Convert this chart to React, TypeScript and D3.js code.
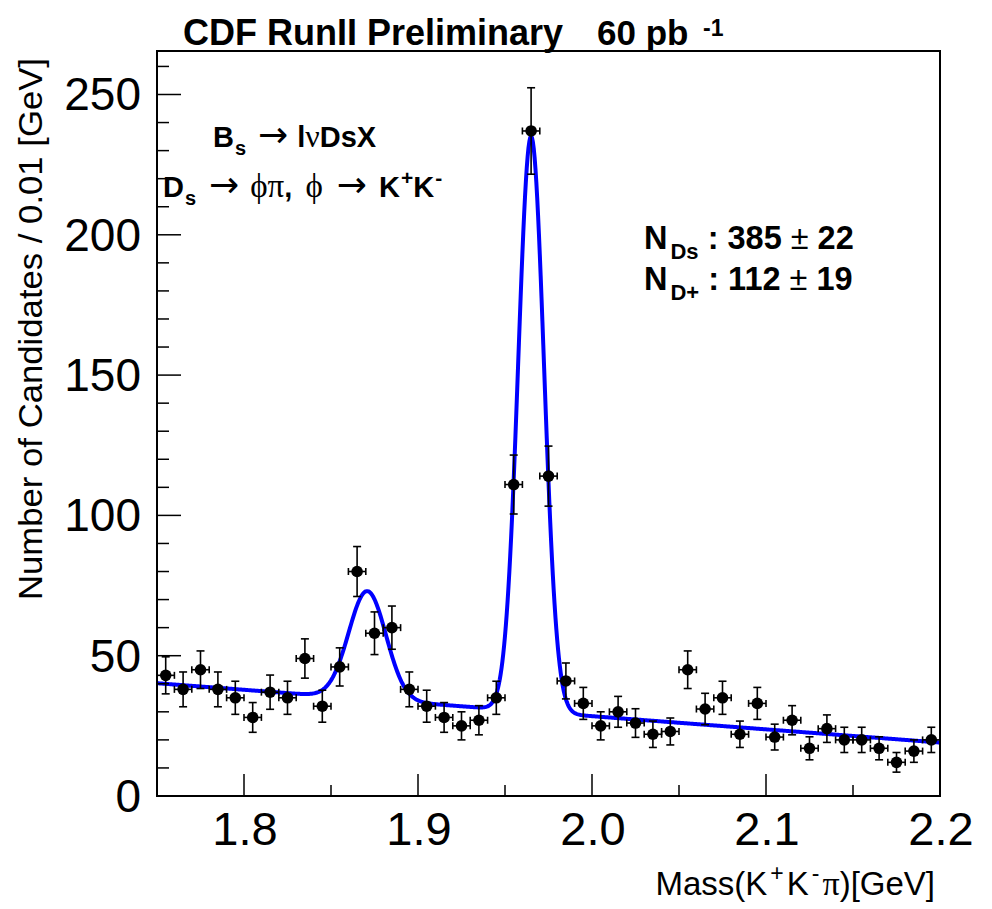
import React from "react";
import * as d3 from "d3";

// Bin centres (GeV), 0.01 GeV bins
const binCenters = [
  1.755, 1.765, 1.775, 1.785, 1.795, 1.805, 1.815, 1.825, 1.835, 1.845,
  1.855, 1.865, 1.875, 1.885, 1.895, 1.905, 1.915, 1.925, 1.935, 1.945,
  1.955, 1.965, 1.975, 1.985, 1.995, 2.005, 2.015, 2.025, 2.035, 2.045,
  2.055, 2.065, 2.075, 2.085, 2.095, 2.105, 2.115, 2.125, 2.135, 2.145,
  2.155, 2.165, 2.175, 2.185, 2.195,
];
const counts = [
  43, 38, 45, 38, 35, 28, 37, 35, 49, 32,
  46, 80, 58, 60, 38, 32, 28, 25, 27, 35,
  111, 237, 114, 41, 33, 25, 30, 26, 22, 23,
  45, 31, 35, 22, 33, 21, 27, 17, 24, 20,
  20, 17, 12, 16, 20,
];
const errors = [
  6.6, 6.2, 6.7, 6.2, 5.9, 5.3, 6.1, 5.9, 7.0, 5.7,
  6.8, 8.9, 7.6, 7.7, 6.2, 5.7, 5.3, 5.0, 5.2, 5.9,
  10.5, 15.4, 10.7, 6.4, 5.7, 5.0, 5.5, 5.1, 4.7, 4.8,
  6.7, 5.6, 5.9, 4.7, 5.7, 4.6, 5.2, 4.1, 4.9, 4.5,
  4.5, 4.1, 3.5, 4.0, 4.5,
];
const binHalfWidth = 0.005;

// Fit parameters: linear background + two Gaussians
const bgAt175 = 40.2;
const bgSlope = -47;
const dsAmp = 205;
const dsMean = 1.965;
const dsSigma = 0.0074;
const dpAmp = 38.5;
const dpMean = 1.8709;
const dpSigma = 0.0107;

const xTicks = [1.8, 1.9, 2.0, 2.1, 2.2];
const xMinorTicks = [1.75, 1.85, 1.95, 2.05, 2.15];
const yTicks = [0, 50, 100, 150, 200, 250];
const yMinorTicks = [10, 20, 30, 40, 60, 70, 80, 90, 110, 120, 130, 140, 160, 170, 180, 190, 210, 220, 230, 240, 260];

const W = 992;
const H = 909;
const L = 157, R = 940, T = 51, B = 796;
const FONT = "'Liberation Sans', Arial, Helvetica, sans-serif";
const GREEK = "'Liberation Serif', 'DejaVu Serif', serif";
const ARROW = "'DejaVu Sans', sans-serif";

function fitFn(x: number) {
  const bg = bgAt175 + bgSlope * (x - 1.75);
  const g1 = dsAmp * Math.exp(-((x - dsMean) ** 2) / (2 * dsSigma * dsSigma));
  const g2 = dpAmp * Math.exp(-((x - dpMean) ** 2) / (2 * dpSigma * dpSigma));
  return bg + g1 + g2;
}

export default function App() {
  const x = d3.scaleLinear().domain([1.75, 2.2]).range([L, R]);
  const y = d3.scaleLinear().domain([0, 265.5]).range([B, T]);

  const fitXs = d3.range(1.75, 2.20001, 0.0005);
  const line = d3
    .line<number>()
    .x((d) => x(d))
    .y((d) => y(fitFn(d)));

  const fmt = d3.format(".1f");

  return (
    <svg
      width={W}
      height={H}
      style={{ position: "absolute", left: 0, top: 0, background: "#fff" }}
      fontFamily={FONT}
    >
      <rect x={0} y={0} width={W} height={H} fill="#fff" />

      {/* Title */}
      <text x={183} y={45} fontSize={36} fontWeight="bold" fill="#000">
        CDF RunII Preliminary
      </text>
      <text x={597} y={45} fontSize={35} fontWeight="bold" fill="#000">
        60 pb
      </text>
      <text x={703} y={36} fontSize={23} fontWeight="bold" fill="#000">
        -1
      </text>

      {/* Fit curve */}
      <path d={line(fitXs) || ""} fill="none" stroke="#0000ff" strokeWidth={4} strokeLinejoin="round" />

      {/* Data points */}
      <g stroke="#000" strokeWidth={1.6}>
        {binCenters.map((c, i) => {
          const cx = x(c);
          const cy = y(counts[i]);
          const x0 = x(c - binHalfWidth);
          const x1 = x(c + binHalfWidth);
          const yTop = y(counts[i] + errors[i]);
          const yBot = y(counts[i] - errors[i]);
          return (
            <g key={i}>
              <line x1={x0} x2={x1} y1={cy} y2={cy} />
              <line x1={x0} x2={x0} y1={cy - 3.5} y2={cy + 3.5} />
              <line x1={x1} x2={x1} y1={cy - 3.5} y2={cy + 3.5} />
              <line x1={cx} x2={cx} y1={yTop} y2={yBot} />
              <line x1={cx - 4} x2={cx + 4} y1={yTop} y2={yTop} />
              <line x1={cx - 4} x2={cx + 4} y1={yBot} y2={yBot} />
              <circle cx={cx} cy={cy} r={5.8} fill="#000" stroke="none" />
            </g>
          );
        })}
      </g>

      {/* Frame */}
      <rect x={L} y={T} width={R - L} height={B - T} fill="none" stroke="#000" strokeWidth={2} />

      {/* Ticks */}
      <g stroke="#000" strokeWidth={1.5}>
        {xTicks.map((t) => (
          <line key={"xt" + t} x1={x(t)} x2={x(t)} y1={B} y2={B - 22} />
        ))}
        {xMinorTicks.map((t) => (
          <line key={"xm" + t} x1={x(t)} x2={x(t)} y1={B} y2={B - 11} />
        ))}
        {yTicks.map((t) => (
          <line key={"yt" + t} x1={L} x2={L + 24} y1={y(t)} y2={y(t)} />
        ))}
        {yMinorTicks.map((t) => (
          <line key={"ym" + t} x1={L} x2={L + 12} y1={y(t)} y2={y(t)} />
        ))}
      </g>

      {/* Tick labels */}
      {xTicks.map((t) => (
        <text key={"xl" + t} x={x(t) + 1} y={845} fontSize={47} textAnchor="middle" fill="#000">
          {fmt(t)}
        </text>
      ))}
      {yTicks.map((t) => (
        <text key={"yl" + t} x={141} y={y(t) + 16} fontSize={46} textAnchor="end" fill="#000">
          {t}
        </text>
      ))}

      {/* Axis titles */}
      <text
        transform={`translate(42,58) rotate(-90)`}
        fontSize={33}
        textAnchor="end"
        fill="#000"
        textLength={542}
        lengthAdjust="spacingAndGlyphs"
      >
        Number of Candidates / 0.01 [GeV]
      </text>
      <text x={935} y={895} fontSize={33} textAnchor="end" fill="#000">
        Mass(K
        <tspan fontSize={23} dx={3} dy={-14}>+</tspan>
        <tspan dx={3} dy={14}>K</tspan>
        <tspan fontSize={23} dx={3} dy={-14}>-</tspan>
        <tspan dx={3} dy={14} fontFamily={GREEK} fontSize={34}>π</tspan>
        <tspan>)[GeV]</tspan>
      </text>

      {/* Annotations */}
      <text x={213} y={147} fontSize={29} fontWeight="bold" fill="#000">
        B
        <tspan fontSize={20} dx={1} dy={8}>s</tspan>
        <tspan dx={12} dy={-8} fontWeight="normal" fontFamily={ARROW} fontSize={36}>→</tspan>
        <tspan dx={9}>l</tspan>
        <tspan fontWeight="normal" fontFamily={GREEK} fontSize={32}>ν</tspan>
        <tspan>DsX</tspan>
      </text>
      <text x={163} y={197} fontSize={29} fontWeight="bold" fill="#000">
        D
        <tspan fontSize={20} dx={1} dy={8}>s</tspan>
        <tspan dx={13} dy={-8} fontWeight="normal" fontFamily={ARROW} fontSize={36}>→</tspan>
        <tspan dx={11} fontWeight="normal" fontFamily={GREEK} fontSize={33}>ϕπ</tspan>
        <tspan>, </tspan>
        <tspan dx={5} fontWeight="normal" fontFamily={GREEK} fontSize={33}>ϕ</tspan>
        <tspan dx={14} fontWeight="normal" fontFamily={ARROW} fontSize={36}>→</tspan>
        <tspan dx={12}>K</tspan>
        <tspan fontSize={21} dx={1} dy={-12}>+</tspan>
        <tspan dy={12}>K</tspan>
        <tspan fontSize={21} dx={1} dy={-12}>-</tspan>
      </text>

      <text x={644} y={249} fontSize={32.5} fontWeight="bold" fill="#000">
        N
        <tspan fontSize={22} dx={3} dy={10}>Ds</tspan>
        <tspan dy={-10}> : 385 </tspan>
        <tspan fontWeight="normal">±</tspan>
        <tspan> 22</tspan>
      </text>
      <text x={644} y={290} fontSize={32.5} fontWeight="bold" fill="#000">
        N
        <tspan fontSize={22} dx={3} dy={10}>D+</tspan>
        <tspan dy={-10}> : 112 </tspan>
        <tspan fontWeight="normal">±</tspan>
        <tspan> 19</tspan>
      </text>
    </svg>
  );
}
